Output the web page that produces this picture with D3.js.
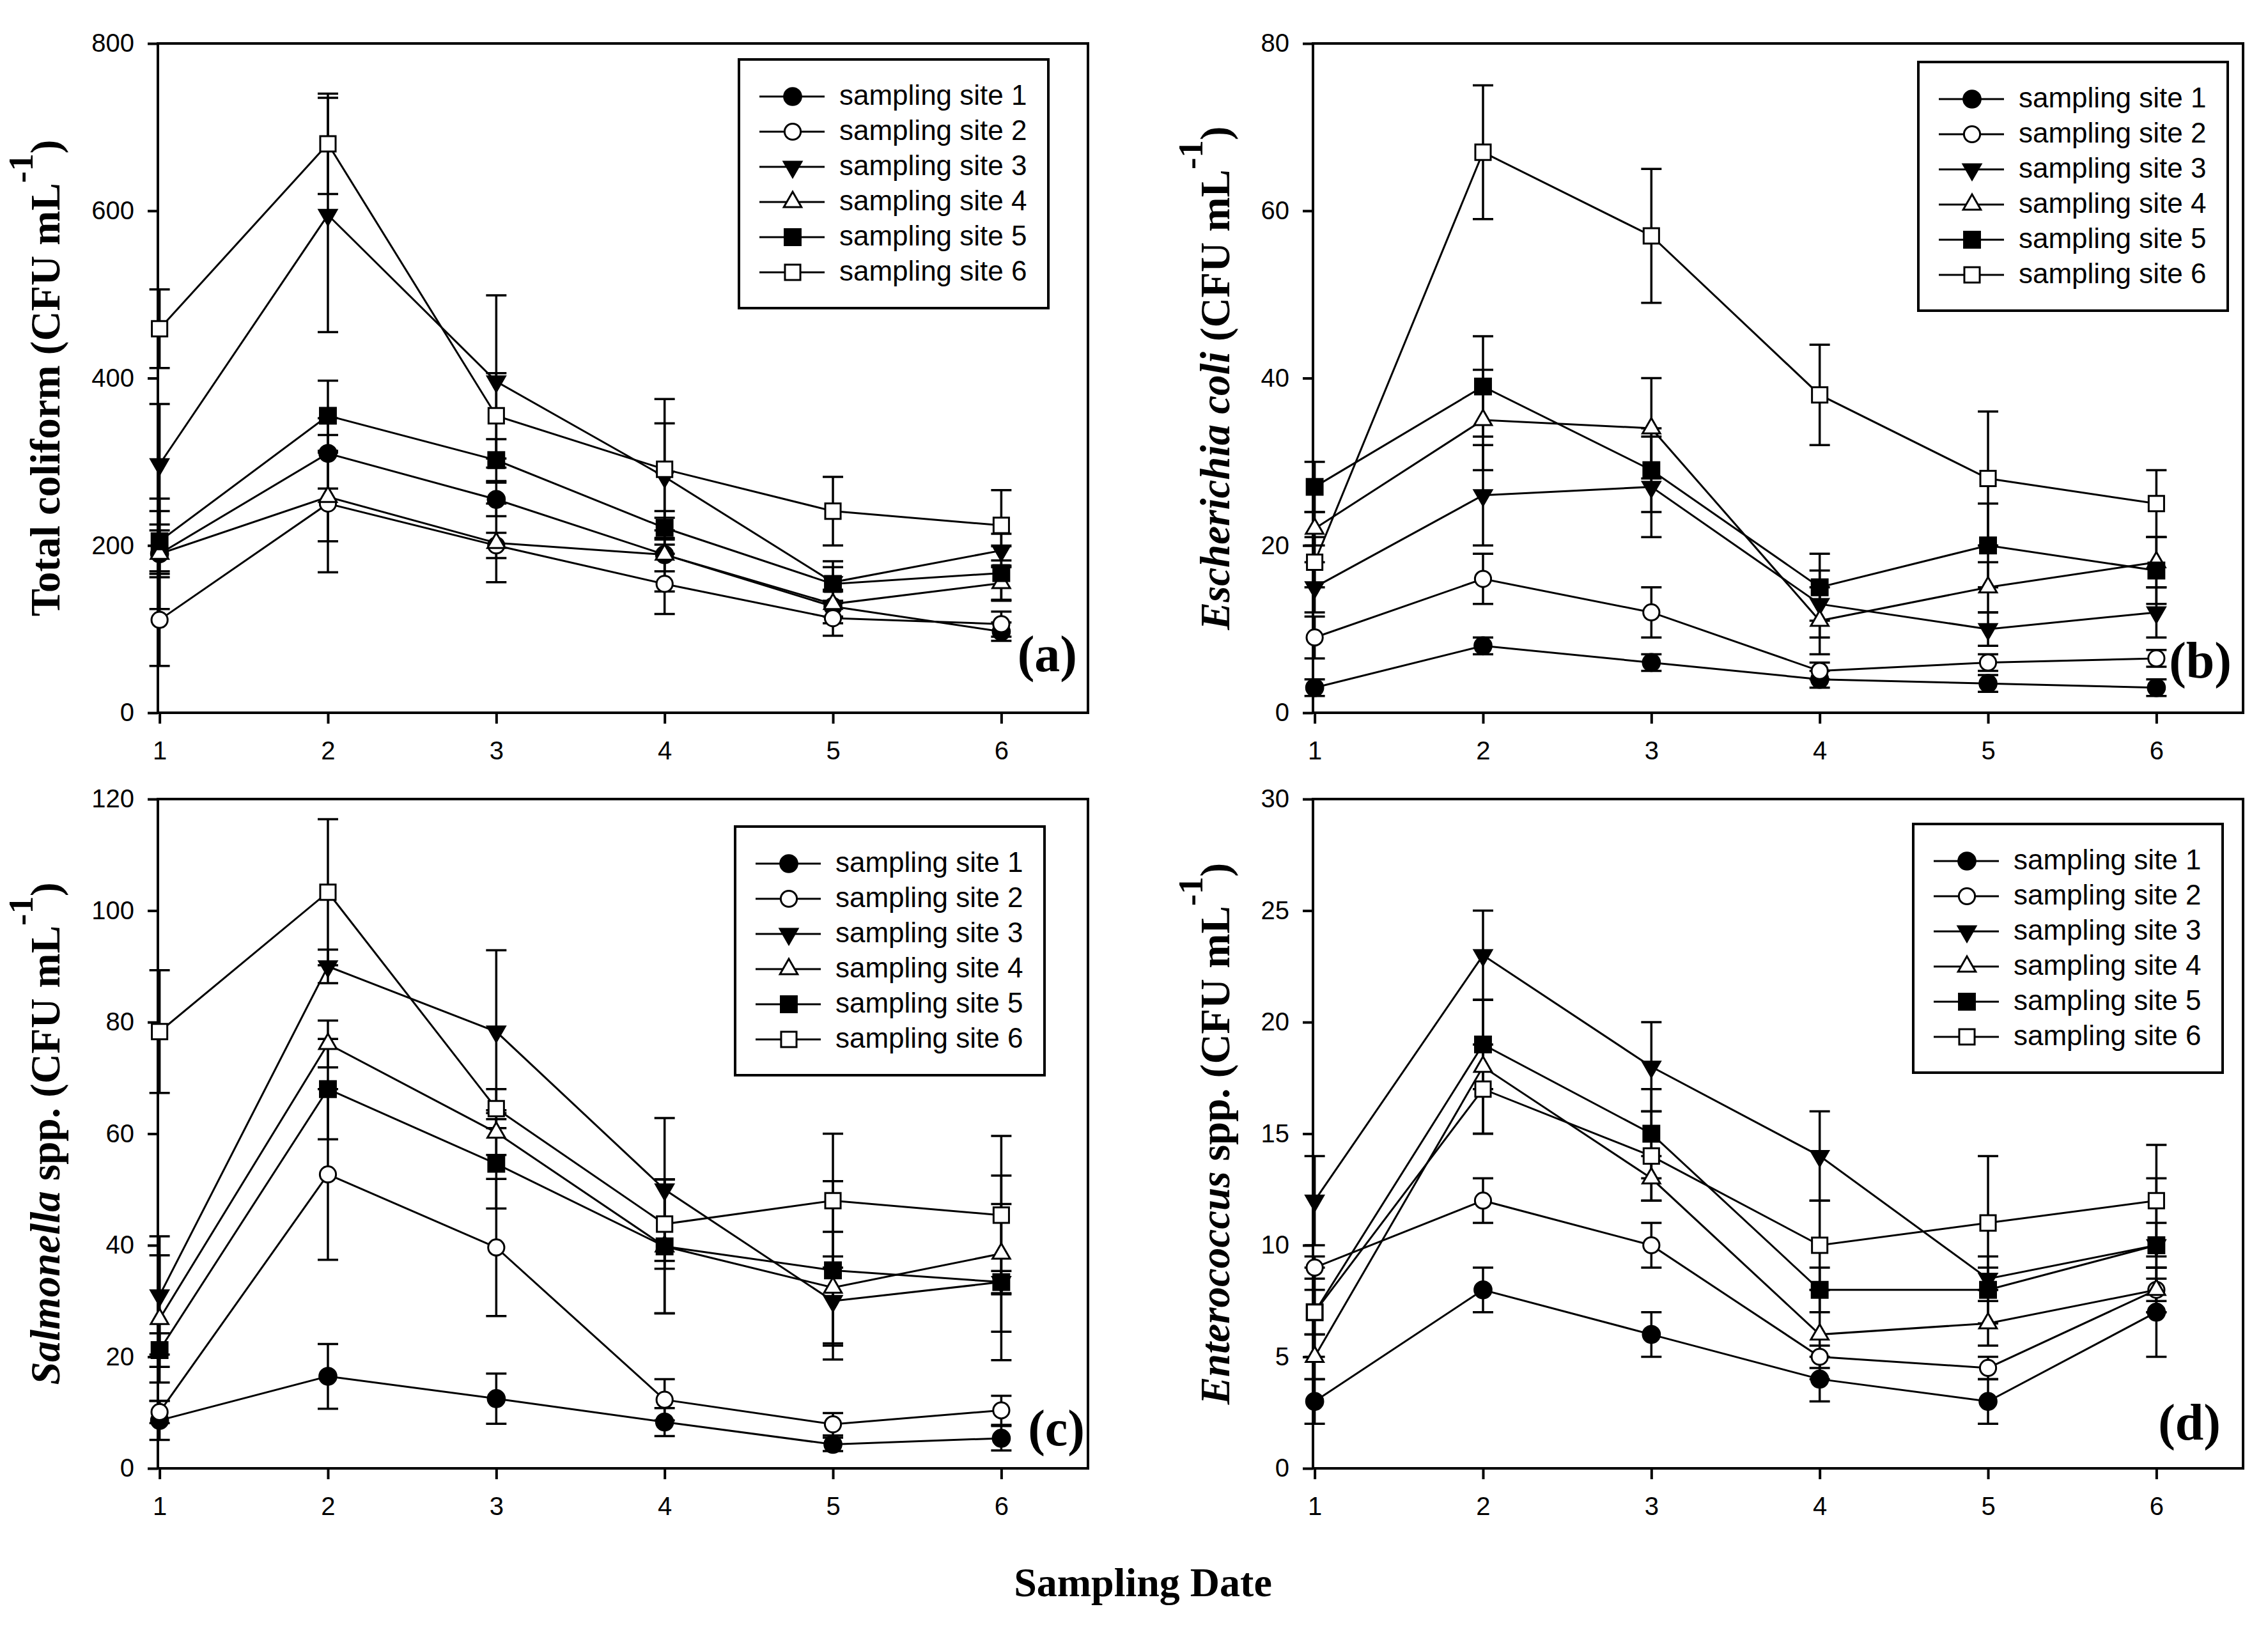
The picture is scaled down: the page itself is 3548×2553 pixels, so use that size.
<!DOCTYPE html>
<html>
<head>
<meta charset="utf-8">
<script src="https://cdn.jsdelivr.net/npm/d3@7"></script>
<style>
  body { margin: 0; background: #fff; }
  svg { display: block; }
</style>
</head>
<body>
<svg id="chart" width="3548" height="2553"></svg>
<script>
// --- Data ---
const dates = [1, 2, 3, 4, 5, 6];
const siteNames = ["sampling site 1", "sampling site 2", "sampling site 3",
                   "sampling site 4", "sampling site 5", "sampling site 6"];

// (a) Total coliform
const coliformMean = [
  [190, 310, 255, 189, 127, 97],
  [111, 250, 200, 154, 113, 106],
  [297, 595, 396, 282, 156, 194],
  [190, 258, 203, 189, 130, 155],
  [205, 355, 302, 221, 154, 167],
  [459, 680, 355, 291, 241, 224]
];
const coliformErr = [
  [28, 42, 20, 44, 20, 11],
  [55, 82, 15, 36, 21, 15],
  [72, 140, 103, 64, 25, 20],
  [66, 53, 47, 20, 15, 21],
  [36, 42, 25, 20, 20, 32],
  [47, 60, 51, 84, 41, 42]
];
const coliformTicks = [0, 200, 400, 600, 800];

// (b) Escherichia coli
const ecoliMean = [
  [3, 8, 6, 4, 3.5, 3],
  [9, 16, 12, 5, 6, 6.5],
  [15, 26, 27, 13, 10, 12],
  [22, 35, 34, 11, 15, 18],
  [27, 39, 29, 15, 20, 17],
  [18, 67, 57, 38, 28, 25]
];
const ecoliErr = [
  [1, 1, 1, 1, 1, 1],
  [2.5, 3, 3, 1, 1, 1],
  [3, 6, 6, 4, 2, 3],
  [2, 6, 6, 4, 3, 3],
  [3, 6, 5, 4, 5, 4],
  [3, 8, 8, 6, 8, 4]
];
const ecoliTicks = [0, 20, 40, 60, 80];

// (c) Salmonella spp.
const salmonellaMean = [
  [8.6, 16.5, 12.5, 8.3, 4.3, 5.4],
  [10.1, 52.7, 39.6, 12.3, 7.9, 10.4],
  [31, 90, 78.3, 50, 30, 33.4],
  [26.8, 76.1, 60.2, 39.8, 32.4, 38.5],
  [21.2, 68, 54.6, 39.8, 35.5, 33.4],
  [78.3, 103.3, 64.5, 43.8, 48, 45.4]
];
const salmonellaErr = [
  [3.5, 5.8, 4.5, 2.5, 1.2, 2.2],
  [2, 15.3, 12.3, 3.7, 2, 2.6],
  [10.6, 3, 14.6, 12.8, 8, 14],
  [11.4, 4.2, 4, 12, 10, 14],
  [3, 9, 8, 12, 16, 2],
  [11, 13.1, 3.5, 8, 12, 14.2]
];
const salmonellaTicks = [0, 20, 40, 60, 80, 100, 120];

// (d) Enterococcus spp.
const enteroMean = [
  [3, 8, 6, 4, 3, 7],
  [9, 12, 10, 5, 4.5, 8],
  [12, 23, 18, 14, 8.5, 10],
  [5, 18, 13, 6, 6.5, 8],
  [7, 19, 15, 8, 8, 10],
  [7, 17, 14, 10, 11, 12]
];
const enteroErr = [
  [1, 1, 1, 1, 1, 2],
  [0.5, 1, 1, 0.5, 0.5, 0.5],
  [2, 2, 2, 2, 0.5, 1],
  [1, 3, 1, 2, 1, 1],
  [2, 2, 2, 1, 1.5, 3],
  [1, 2, 2, 2, 3, 2.5]
];
const enteroTicks = [0, 5, 10, 15, 20, 25, 30];

// --- Layout ---
const plotW = 1455, plotH = 1047;
const panels = [
  { left: 247, top: 68, mean: coliformMean, err: coliformErr, ticks: coliformTicks,
    italic: "", rest: "Total coliform (CFU mL", titleOff: 154,
    legend: [909, 25], tag: "(a)", tagDx: 17, tagY: 982 },
  { left: 2054, top: 68, mean: ecoliMean, err: ecoliErr, ticks: ecoliTicks,
    italic: "Escherichia coli", rest: " (CFU mL", titleOff: 131,
    legend: [947, 29], tag: "(b)", tagDx: 18, tagY: 992 },
  { left: 247, top: 1250, mean: salmonellaMean, err: salmonellaErr, ticks: salmonellaTicks,
    italic: "Salmonella", rest: " spp. (CFU mL", titleOff: 154,
    legend: [903, 43], tag: "(c)", tagDx: 5, tagY: 1011 },
  { left: 2054, top: 1250, mean: enteroMean, err: enteroErr, ticks: enteroTicks,
    italic: "Enterococcus", rest: " spp. (CFU mL", titleOff: 131,
    legend: [939, 39], tag: "(d)", tagDx: 35, tagY: 1002 }
];

const sansFont = "Arial, 'Liberation Sans', sans-serif";
const serifFont = "'Times New Roman', 'Liberation Serif', serif";

// marker shapes per site: [symbol type, filled, rotation, size]
const markers = [
  [d3.symbolCircle, true, 0, 560],
  [d3.symbolCircle, false, 0, 500],
  [d3.symbolTriangle, true, 180, 330],
  [d3.symbolTriangle, false, 0, 330],
  [d3.symbolSquare, true, 0, 620],
  [d3.symbolSquare, false, 0, 580]
];

const svg = d3.select("#chart");
svg.append("rect").attr("width", 3548).attr("height", 2553).attr("fill", "#fff");

function drawMarker(g, i, x, y) {
  const [type, filled, rot, size] = markers[i];
  g.append("path")
    .attr("d", d3.symbol().type(type).size(size)())
    .attr("transform", `translate(${x},${y}) rotate(${rot})`)
    .attr("fill", filled ? "#000" : "#fff")
    .attr("stroke", "#000")
    .attr("stroke-width", 3);
}

panels.forEach(p => {
  const g = svg.append("g").attr("transform", `translate(${p.left},${p.top})`);
  const x = d3.scaleLinear().domain([0.99, 6.515]).range([0, plotW]);
  const y = d3.scaleLinear().domain([0, d3.max(p.ticks)]).range([plotH, 0]);

  // axes
  const yAxis = g.append("g")
    .call(d3.axisLeft(y).tickValues(p.ticks).tickFormat(d3.format("d"))
      .tickSize(16).tickPadding(21).tickSizeOuter(0));
  const xAxis = g.append("g").attr("transform", `translate(0,${plotH})`)
    .call(d3.axisBottom(x).tickValues(dates).tickFormat(d3.format("d"))
      .tickSize(17).tickPadding(28).tickSizeOuter(0));
  [yAxis, xAxis].forEach(a => {
    a.select(".domain").remove();
    a.selectAll(".tick line").attr("stroke", "#000").attr("stroke-width", 4);
    a.selectAll(".tick text").attr("font-family", sansFont).attr("font-size", 40).attr("fill", "#000");
  });

  // frame
  g.append("rect").attr("width", plotW).attr("height", plotH)
    .attr("fill", "none").attr("stroke", "#000").attr("stroke-width", 4);

  const line = d3.line().x((d, j) => x(dates[j])).y(d => y(d));

  // lines
  p.mean.forEach(s => {
    g.append("path").attr("d", line(s))
      .attr("fill", "none").attr("stroke", "#000").attr("stroke-width", 3);
  });

  // error bars
  p.mean.forEach((s, i) => {
    s.forEach((m, j) => {
      const e = p.err[i][j];
      const cx = x(dates[j]);
      const y0 = y(m - e), y1 = y(m + e);
      const eb = g.append("g").attr("stroke", "#000").attr("stroke-width", 3.5);
      eb.append("line").attr("x1", cx).attr("x2", cx).attr("y1", y0).attr("y2", y1);
      eb.append("line").attr("x1", cx - 16).attr("x2", cx + 16).attr("y1", y0).attr("y2", y0);
      eb.append("line").attr("x1", cx - 16).attr("x2", cx + 16).attr("y1", y1).attr("y2", y1);
    });
  });

  // markers
  p.mean.forEach((s, i) => {
    s.forEach((m, j) => drawMarker(g, i, x(dates[j]), y(m)));
  });

  // legend
  const lg = g.append("g").attr("transform", `translate(${p.legend[0]},${p.legend[1]})`);
  lg.append("rect").attr("width", 484).attr("height", 389)
    .attr("fill", "#fff").attr("stroke", "#000").attr("stroke-width", 4);
  siteNames.forEach((name, i) => {
    const ry = 58 + i * 55;
    lg.append("line").attr("x1", 32).attr("x2", 134).attr("y1", ry).attr("y2", ry)
      .attr("stroke", "#000").attr("stroke-width", 3);
    drawMarker(lg, i, 84, ry);
    lg.append("text").attr("x", 157).attr("y", ry + 13)
      .attr("font-family", sansFont).attr("font-size", 44).text(name);
  });

  // panel tag
  g.append("text").attr("x", plotW - p.tagDx).attr("y", p.tagY)
    .attr("text-anchor", "end").attr("font-family", serifFont)
    .attr("font-weight", "bold").attr("font-size", 80).text(p.tag);

  // y title
  const t = g.append("text")
    .attr("transform", `translate(${-p.titleOff},${plotH / 2}) rotate(-90)`)
    .attr("text-anchor", "middle").attr("font-family", serifFont)
    .attr("font-weight", "bold").attr("font-size", 65);
  if (p.italic) t.append("tspan").attr("font-style", "italic").text(p.italic);
  t.append("tspan").text(p.rest);
  t.append("tspan").attr("font-size", 55).attr("dy", -42).text("-1");
  t.append("tspan").attr("dy", 42).text(")");
});

// shared x title
svg.append("text").attr("x", 1788).attr("y", 2497)
  .attr("text-anchor", "middle").attr("font-family", serifFont)
  .attr("font-weight", "bold").attr("font-size", 64).text("Sampling Date");
</script>
</body>
</html>
